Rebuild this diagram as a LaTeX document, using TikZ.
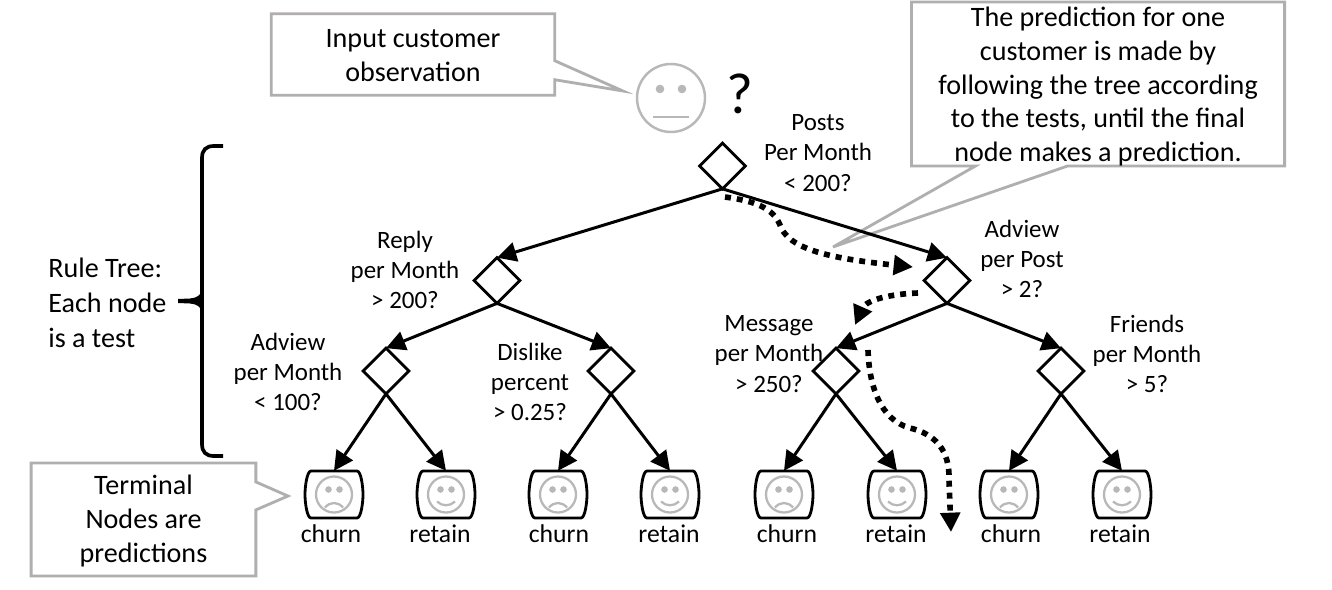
\documentclass[tikz,border=0pt]{standalone}
\usepackage{fontspec}
\setmainfont{Carlito}
\usetikzlibrary{shapes.geometric,arrows.meta,calc}
\definecolor{boxgray}{HTML}{B0AEAE}
\definecolor{facegray}{HTML}{B8B8B8}
\begin{document}
\begin{tikzpicture}[x=0.02cm,y=-0.02cm,>={Triangle[length=11pt,width=11pt]}]
  \tikzstyle{txt}=[inner sep=0pt,align=center,font=\fontsize{14.2}{17.2}\selectfont]
  \tikzstyle{leaftxt}=[inner sep=0pt,align=center,font=\fontsize{14.6}{17.2}\selectfont]
  \tikzstyle{test}=[draw,diamond,aspect=1,line width=1.6pt,inner sep=0pt,outer sep=0pt,minimum width=26pt,minimum height=26pt]
  \tikzstyle{leaf}=[inner sep=0pt,outer sep=0pt,minimum width=33pt,minimum height=27pt]
  \tikzstyle{callout}=[draw=boxgray,fill=white,line width=1.6pt,line join=miter]
  \tikzstyle{edge}=[->,line width=1.7pt]
  \tikzstyle{walk}=[->,line width=3.2pt,dash pattern=on 3.4pt off 3.4pt]
  \tikzstyle{face}=[draw=facegray,line width=1.3pt]
  \useasboundingbox (0,0) rectangle (1332,589);
  % callouts
  \node[inner sep=0pt,minimum width=161pt,minimum height=46pt] (input) at (413,54.5) {};
  \coordinate (inputtip) at (623,91);
  \draw[callout] (input.north west) -- (input.north east) -- ($(input.north east)+(0,47)$) -- (inputtip) -- ($(input.north east)+(0,66)$) -- (input.south east) -- (input.south west) -- cycle;
  \node[inner sep=0pt,align=center,font=\fontsize{16}{19.8}\selectfont] at (413,55.5) {Input customer\\observation};
  \node[inner sep=0pt,minimum width=127.5pt,minimum height=64pt] (terminal) at (143.5,519.5) {};
  \coordinate (terminaltip) at (288,496);
  \draw[callout] (terminal.north west) -- (terminal.north east) -- ($(terminal.north east)+(0,19)$) -- (terminaltip) -- ($(terminal.north east)+(0,47)$) -- (terminal.south east) -- (terminal.south west) -- cycle;
  \node[inner sep=0pt,align=center,font=\fontsize{16}{19.5}\selectfont] at (143.5,521) {Terminal\\Nodes are\\predictions};
  \node[inner sep=0pt,minimum width=212pt,minimum height=93pt] (predict) at (1098,84) {};
  \coordinate (predicttip) at (833,247);
  \draw[callout] (predict.north west) -- (predict.north east) -- (predict.south east) -- ($(predict.south west)+(156,0)$) -- (predicttip) -- ($(predict.south west)+(64,0)$) -- (predict.south west) -- cycle;
  \node[inner sep=0pt,align=center,font=\fontsize{16}{19.1}\selectfont] at (1098,86.5) {The prediction for one\\customer is made by\\following the tree according\\to the tests, until the final\\node makes a prediction.};
  % input face
  \draw[face,line width=1.4pt] (671,98) circle (34);
  \fill[facegray] (660,89) circle (4.3) (682,89) circle (4.3);
  \draw[face] (653,117) -- (689,117);
  \node[inner sep=0pt,font=\fontsize{33}{33}\selectfont] (question) at (740,94) {?};
  % brace
  \draw[line width=2.1pt] (223,146) -- (214,146) .. controls (206,146) and (202,150) .. (202,158) -- (202,444) .. controls (202,452) and (206,456) .. (214,456) -- (223,456);
  \fill (178,299) -- (190,298.5) .. controls (197,298) and (201,295) .. (202,290) -- (202,312) .. controls (201,307) and (197,304) .. (190,303.5) -- (178,303) -- cycle;
  \node[inner sep=0pt,align=left,anchor=west,font=\fontsize{16}{19.8}\selectfont] (rule) at (48,303) {Rule Tree:\\Each node\\is a test};
  % tests
  \node[test] (posts) at (722.5,166) {};
  \node[test] (reply) at (497,280.5) {};
  \node[test] (adpost) at (947,280.5) {};
  \node[test] (admonth) at (386,371) {};
  \node[test] (dislike) at (611,371) {};
  \node[test] (message) at (836,371) {};
  \node[test] (friends) at (1061,371) {};
  \node[txt] (postslab) at (818,153) {Posts\\Per Month\\< 200?};
  \node[txt] (replylab) at (405,270) {Reply\\per Month\\> 200?};
  \node[txt] (adpostlab) at (1022,259) {Adview\\per Post\\> 2?};
  \node[txt] (admonthlab) at (288,372) {Adview\\per Month\\< 100?};
  \node[txt] (dislikelab) at (530,382) {Dislike\\percent\\> 0.25?};
  \node[txt] (messagelab) at (769,354) {Message\\per Month\\> 250?};
  \node[txt] (friendslab) at (1147,354) {Friends\\per Month\\> 5?};
  % terminal nodes
  \foreach \nm/\x/\lx/\lab/\my/\cy in {a/334/331/churn/13/7,b/446/440/retain/7/12,c/558/559/churn/13/7,d/670/669/retain/7/12,e/784/787/churn/13/7,f/897/896/retain/7/12,g/1009/1011/churn/13/7,h/1122/1120/retain/7/12} {
    \node[leaf] (\nm) at (\x,494.5) {};
    \node[leaftxt] (\nm lab) at (\lx,534) {\lab};
    \begin{scope}[shift={(\x,494.5)}]
      \draw[line width=1.6pt] (-23,-23.5) -- (23,-23.5) .. controls (27,-23.5) and (29,-8) .. (29,0) .. controls (29,8) and (27,23.5) .. (23,23.5) -- (-23,23.5) .. controls (-27,23.5) and (-29,8) .. (-29,0) .. controls (-29,-8) and (-27,-23.5) .. (-23,-23.5) -- cycle;
      \draw[face] (0,0) circle (18);
      \fill[facegray] (-5.5,-5) circle (3.3) (5.5,-5) circle (3.3);
      \draw[face] (-9,\my) .. controls (-4,\cy) and (4,\cy) .. (9,\my);
    \end{scope}
  }
  % tree edges
  \draw[edge] (posts.south) -- (reply.north);
  \draw[edge] (posts.south) -- (adpost.north);
  \draw[edge] (reply.south) -- (admonth.north);
  \draw[edge] (reply.south) -- (dislike.north);
  \draw[edge] (adpost.south) -- (message.north);
  \draw[edge] (adpost.south) -- (friends.north);
  \foreach \p/\l/\r in {admonth/a/b,dislike/c/d,message/e/f,friends/g/h} {
    \draw[edge] (\p.south) -- (\l.north);
    \draw[edge] (\p.south) -- (\r.north);
  }
  % dotted walk
  \coordinate (walkA) at (725,197);
  \coordinate (walkAend) at (913,267);
  \coordinate (walkB) at (918,293);
  \coordinate (walkBend) at (855,325);
  \coordinate (walkC) at (868,350);
  \coordinate (walkCend) at (951,532);
  \draw[walk] (walkA) .. controls (755,201) and (773,208) .. (780,225) .. controls (788,248) and (825,258) .. (walkAend);
  \draw[walk] (walkB) .. controls (890,294) and (866,300) .. (walkBend);
  \draw[walk] (walkC) .. controls (869,385) and (880,420) .. (910,428) .. controls (935,434) and (950,450) .. (949,480) -- (walkCend);
\end{tikzpicture}
\end{document}
